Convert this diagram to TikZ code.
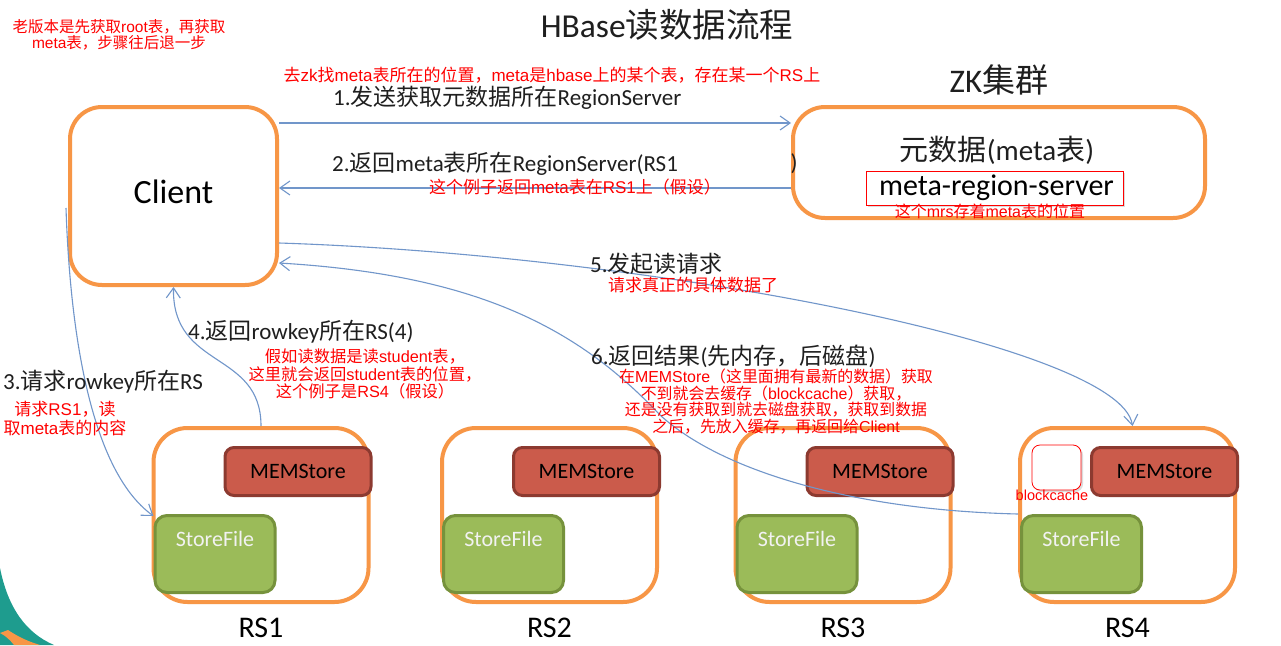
\documentclass[tikz,border=0pt]{standalone}
\usepackage{fontspec}
\setmainfont{Carlito}
\newfontfamily\cjkfont{Noto Sans CJK SC}
\newfontfamily\arialfont{Liberation Sans}
\usetikzlibrary{arrows.meta,shadows}
% automatic switch to the CJK font for CJK characters
\newXeTeXintercharclass\zhclass
\newcount\zhc
\zhc="3000 \loop\XeTeXcharclass\zhc=\zhclass \advance\zhc by 1 \ifnum\zhc<"3040 \repeat
\zhc="4E00 \loop\XeTeXcharclass\zhc=\zhclass \advance\zhc by 1 \ifnum\zhc<"A000 \repeat
\zhc="FF00 \loop\XeTeXcharclass\zhc=\zhclass \advance\zhc by 1 \ifnum\zhc<"FFF0 \repeat
\XeTeXinterchartoks 0 \zhclass = {\begingroup\cjkfont}
\XeTeXinterchartoks 4095 \zhclass = {\begingroup\cjkfont}
\XeTeXinterchartoks \zhclass 0 = {\endgroup}
\XeTeXinterchartoks \zhclass 4095 = {\endgroup}
\XeTeXinterchartokenstate=1
\definecolor{orng}{HTML}{F79646}
\definecolor{memfill}{HTML}{CB5B4B}
\definecolor{memline}{HTML}{8C3A30}
\definecolor{sffill}{HTML}{9BBB59}
\definecolor{sfline}{HTML}{76923C}
\definecolor{flowc}{HTML}{7196CA}
\definecolor{txt}{HTML}{1F1F1F}
\definecolor{swteal}{HTML}{1E9C8E}
\begin{document}
\begin{tikzpicture}[x=1pt,y=-1pt,
  obox/.style={draw=orng, line width=4pt, rounded corners=32pt, fill=white, inner sep=0pt},
  mem/.style={draw=memline, line width=3pt, fill=memfill, rounded corners=9pt, minimum width=146pt, minimum height=48pt, inner sep=0pt, font=\fontsize{22}{24}\selectfont, text=black},
  sfbox/.style={draw=sfline, line width=3pt, fill=sffill, rounded corners=12pt, minimum width=120pt, minimum height=77pt, inner sep=0pt},
  sftext/.style={font=\fontsize{22}{24}\selectfont, text=white!95!black, inner sep=0pt},
  lbl/.style={font=\fontsize{23}{26}\selectfont, text=txt, inner sep=0pt},
  note/.style={font=\arialfont\fontsize{17}{19}\selectfont, text=red, align=center, inner sep=0pt},
  flow/.style={draw=flowc, line width=1.1pt, -{Straight Barb[length=10pt,width=14pt]}},
  rslbl/.style={font=\fontsize{30}{32}\selectfont, text=black, inner sep=0pt},
  shd/.style={drop shadow={shadow xshift=2pt, shadow yshift=-2pt, fill=black!30, opacity=.45}}
]
\useasboundingbox (0,0) rectangle (1281,645);
\fill[white] (0,0) rectangle (1281,645);
% decorative swoosh
\fill[swteal] (0,568) .. controls (8,608) and (26,633) .. (54,645) -- (0,645) -- cycle;
\fill[orng] (8,630) .. controls (20,638) and (30,642) .. (40,645) -- (14,645) .. controls (10,640) and (6,636) .. (0,633) -- cycle;

% title and top-left note
\node[font=\fontsize{33.5}{36}\selectfont, text=txt, inner sep=0pt] (title) at (667,25) {HBase读数据流程};
\node[note, font=\arialfont\fontsize{15.5}{16.5}\selectfont] (old) at (119,35) {老版本是先获取root表，再获取\\meta表，步骤往后退一步};

% client
\node[obox, minimum width=207pt, minimum height=178pt] (client) at (173.5,196) {};
\node[font=\fontsize{34}{38}\selectfont, text=black, inner sep=0pt] (clienttext) at (173.5,192) {Client};

% ZK cluster
\node[lbl, font=\fontsize{33}{36}\selectfont] (zkt) at (999,80) {ZK集群};
\node[obox, minimum width=412pt, minimum height=111pt] (zk) at (999,162.5) {};
\node[lbl, font=\fontsize{29}{32}\selectfont] (meta) at (997,150) {元数据(meta表)};
\node[draw=red, line width=0.8pt, fill=white, minimum width=257pt, minimum height=34pt, inner sep=0pt, font=\fontsize{30}{32}\selectfont, text=black, shd] (mrs) at (994.5,188) {\hspace{4pt}meta-region-server};
\node[note, font=\arialfont\fontsize{16}{18}\selectfont] (mrsnote) at (990,211) {这个mrs存着meta表的位置};

% region servers
\foreach \n/\cx in {1/261,2/549.5,3/843,4/1127.5}{
  \node[obox, rounded corners=34pt, minimum width=215pt, minimum height=174pt] (rs\n) at (\cx,515) {};
  \node[mem, anchor=east] (mem\n) at ([xshift=2pt]rs\n.east |- 0,471.5) {MEMStore};
  \node[sfbox, anchor=north west] (sf\n) at ([xshift=2pt]rs\n.west |- 0,514) {};
  \node[sftext] (sft\n) at ([yshift=-25pt]sf\n.north) {StoreFile};
  \node[rslbl] (rsl\n) at (\cx,628) {RS\n};
}
% blockcache
\node[draw=red, line width=0.8pt, fill=white, rounded corners=8pt, minimum width=49pt, minimum height=45pt, inner sep=0pt, shd] (bc) at (1056.5,467.5) {};
\node[note, font=\arialfont\fontsize{14.5}{16}\selectfont] (bclbl) at (1052,495) {blockcache};

% helper coordinates (heights of connectors)
\coordinate (y1) at (0,123);
\coordinate (y2) at (0,188);
\coordinate (y5) at (0,243);
\coordinate (y6) at (0,263);
\coordinate (y6s) at (0,514);
\coordinate (s3) at (66,208);

% connectors
\draw[flow] (client.east |- y1) -- (zk.west |- y1);
\draw[flow] (zk.west |- y2) -- (client.east |- y2);
\draw[flow] (s3) .. controls (70,330) and (90,470) .. ([yshift=-2pt]sf1.north west);
\draw[flow] (rs1.north) .. controls (261,350) and (172,370) .. (client.south);
\draw[flow] (client.east |- y5) .. controls (650,255) and (1120,345) .. ([xshift=5pt]rs4.north);
\draw[flow] (rs4.west |- y6s) .. controls (850,510) and (720,470) .. (660,415) .. controls (580,330) and (480,275) .. (client.east |- y6);

% connector labels
\node[note] (n1) at (552,75) {去zk找meta表所在的位置，meta是hbase上的某个表，存在某一个RS上};
\node[lbl, anchor=west] (l1) at (333,98) {1.发送获取元数据所在RegionServer};
\node[lbl, anchor=west] (l2) at (332,164) {2.返回meta表所在RegionServer(RS1};
\node[lbl] (l2b) at (794,164) {)};
\node[note] (n2) at (575,187) {这个例子返回meta表在RS1上（假设）};
\node[lbl, anchor=west] (l3) at (3,382) {3.请求rowkey所在RS};
\node[note] (n3) at (65,419) {请求RS1，读\\取meta表的内容};
\node[lbl, anchor=west] (l4) at (188,332) {4.返回rowkey所在RS(4)};
\node[note, font=\arialfont\fontsize{16.3}{17.5}\selectfont] (n4) at (365,374) {假如读数据是读student表，\\这里就会返回student表的位置，\\这个例子是RS4（假设）};
\node[lbl, anchor=west] (l5) at (590,264) {5.发起读请求};
\node[note, anchor=west] (n5) at (608,285) {请求真正的具体数据了};
\node[lbl, anchor=west] (l6) at (591,356) {6.返回结果(先内存，后磁盘)};
\node[note, font=\arialfont\fontsize{15.9}{16.5}\selectfont] (n6) at (776,401.5) {在MEMStore（这里面拥有最新的数据）获取\\不到就会去缓存（blockcache）获取，\\还是没有获取到就去磁盘获取，获取到数据\\之后，先放入缓存，再返回给Client};
\end{tikzpicture}
\end{document}
